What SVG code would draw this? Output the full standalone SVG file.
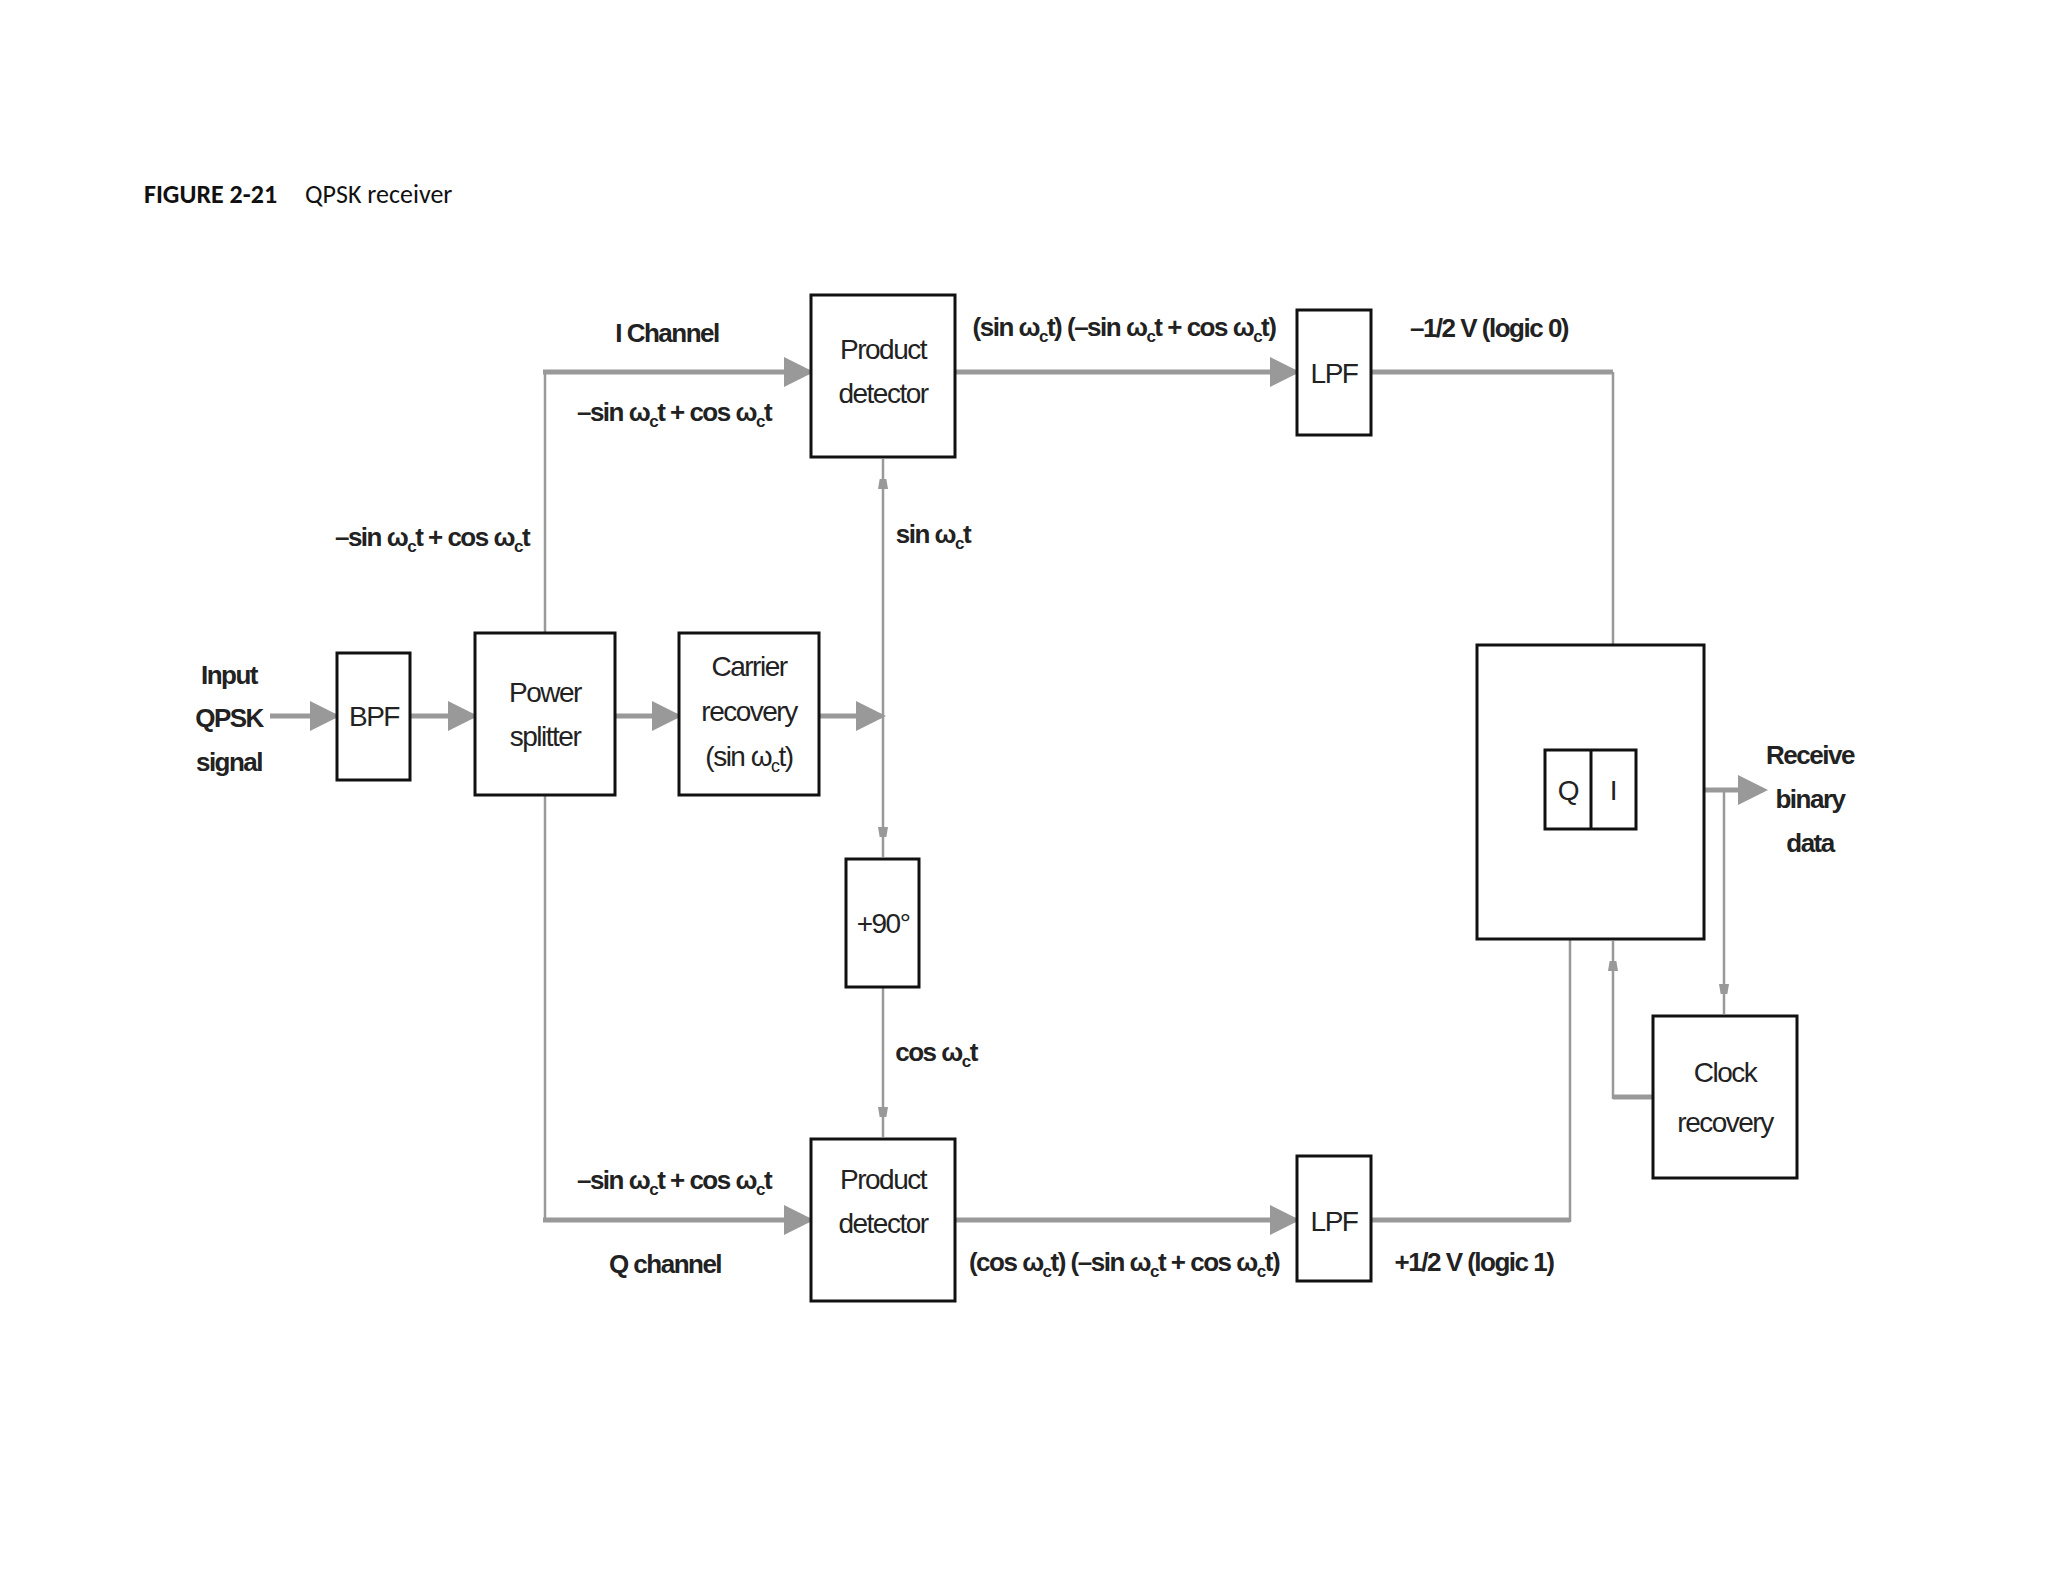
<svg xmlns="http://www.w3.org/2000/svg" width="2048" height="1582" viewBox="0 0 2048 1582">
<style>
.b{fill:#fff;stroke:#111;stroke-width:3}
.t{font-family:"Liberation Sans",Arial,sans-serif;font-size:28px;fill:#222;text-anchor:middle;letter-spacing:-1.5px}
.l{font-family:"Liberation Sans",Arial,sans-serif;font-size:26px;fill:#222;text-anchor:middle;letter-spacing:-1.5px;font-weight:bold}
.w{stroke:#999;stroke-width:5;fill:none}
.n{stroke:#999;stroke-width:2.5;fill:none}
</style>
<defs>
<marker id="a" markerWidth="6" markerHeight="6" refX="5" refY="3" orient="auto"><path d="M0,0L6,3L0,6z" fill="#999"/></marker>
<marker id="s" markerWidth="8" markerHeight="10" refX="8" refY="5" orient="auto" markerUnits="userSpaceOnUse"><path d="M0,0L8,5L0,10z" fill="#999"/></marker>
<marker id="sm" markerWidth="10" markerHeight="30" refX="30" refY="5" orient="auto" markerUnits="userSpaceOnUse"><path d="M0,0L30,5L0,10z" fill="#999"/></marker>
</defs>
<text x="144" y="203" font-family="Calibri,'Liberation Sans',sans-serif" font-size="26" fill="#111"><tspan font-weight="bold">FIGURE 2-21</tspan><tspan dx="28">QPSK receiver</tspan></text>
<g id="connectors">
<path class="w" d="M270,716H335" marker-end="url(#a)"/>
<path class="w" d="M410,716H473" marker-end="url(#a)"/>
<path class="w" d="M615,716H677" marker-end="url(#a)"/>
<path class="w" d="M819,716H881" marker-end="url(#a)"/>
<path class="n" d="M545,633V372" /><path class="w" d="M543,372H809" marker-end="url(#a)"/>
<path class="w" d="M955,372H1295" marker-end="url(#a)"/>
<path class="w" d="M1371,372H1613"/><path class="n" d="M1613,372V748" marker-end="url(#sm)"/>
<path class="n" d="M883,716V459" marker-end="url(#sm)"/>
<path class="n" d="M883,716V857" marker-end="url(#sm)"/>
<path class="n" d="M883,987V1137" marker-end="url(#sm)"/>
<path class="n" d="M545,795V1220"/><path class="w" d="M543,1220H809" marker-end="url(#a)"/>
<path class="w" d="M955,1220H1295" marker-end="url(#a)"/>
<path class="w" d="M1371,1220H1570"/><path class="n" d="M1570,1222V831" marker-end="url(#sm)"/>
<path class="w" d="M1704,790H1763" marker-end="url(#a)"/>
<path class="n" d="M1724,790V1014" marker-end="url(#sm)"/>
<path class="w" d="M1653,1097H1613"/><path class="n" d="M1613,1099V941" marker-end="url(#sm)"/>
</g>
<g id="bpf"><rect class="b" x="337" y="653" width="73" height="127"/><text class="t" x="374" y="726">BPF</text></g>
<g id="splitter"><rect class="b" x="475" y="633" width="140" height="162"/><text class="t" x="545" y="702">Power</text><text class="t" x="545" y="746">splitter</text></g>
<g id="carrier"><rect class="b" x="679" y="633" width="140" height="162"/><text class="t" x="749" y="676">Carrier</text><text class="t" x="749" y="721">recovery</text><text class="t" x="749" y="766">(sin ω<tspan font-size="18" dy="6">c</tspan><tspan dy="-6">t)</tspan></text></g>
<g id="pd1"><rect class="b" x="811" y="295" width="144" height="162"/><text class="t" x="883" y="359">Product</text><text class="t" x="883" y="403">detector</text></g>
<g id="lpf1"><rect class="b" x="1297" y="310" width="74" height="125"/><text class="t" x="1334" y="383">LPF</text></g>
<g id="ph"><rect class="b" x="846" y="859" width="73" height="128"/><text class="t" x="883" y="933">+90°</text></g>
<g id="pd2"><rect class="b" x="811" y="1139" width="144" height="162"/><text class="t" x="883" y="1189">Product</text><text class="t" x="883" y="1233">detector</text></g>
<g id="lpf2"><rect class="b" x="1297" y="1156" width="74" height="125"/><text class="t" x="1334" y="1231">LPF</text></g>
<g id="dec"><rect class="b" x="1477" y="645" width="227" height="294"/><rect class="b" x="1545" y="750" width="91" height="79"/><line x1="1591" y1="750" x2="1591" y2="829" stroke="#111" stroke-width="3"/><text class="t" x="1568" y="800" font-family="Liberation Serif,serif">Q</text><text class="t" x="1613" y="800" font-family="Liberation Serif,serif">I</text></g>
<g id="clock"><rect class="b" x="1653" y="1016" width="144" height="162"/><text class="t" x="1725" y="1082">Clock</text><text class="t" x="1725" y="1132">recovery</text></g>
<g id="labels">
<text class="l" x="229" y="684">Input</text><text class="l" x="229" y="727">QPSK</text><text class="l" x="229" y="771">signal</text>
<text class="l" x="1810" y="764">Receive</text><text class="l" x="1810" y="808">binary</text><text class="l" x="1810" y="852">data</text>
<text class="l" x="667" y="342">I Channel</text>
<text class="l" x="674" y="421">–sin ω<tspan font-size="17" dy="6">c</tspan><tspan dy="-6">t + cos ω</tspan><tspan font-size="17" dy="6">c</tspan><tspan dy="-6">t</tspan></text>
<text class="l" x="432" y="546">–sin ω<tspan font-size="17" dy="6">c</tspan><tspan dy="-6">t + cos ω</tspan><tspan font-size="17" dy="6">c</tspan><tspan dy="-6">t</tspan></text>
<text class="l" x="933" y="543">sin ω<tspan font-size="17" dy="6">c</tspan><tspan dy="-6">t</tspan></text>
<text class="l" x="1124" y="336">(sin ω<tspan font-size="17" dy="6">c</tspan><tspan dy="-6">t) (–sin ω</tspan><tspan font-size="17" dy="6">c</tspan><tspan dy="-6">t + cos ω</tspan><tspan font-size="17" dy="6">c</tspan><tspan dy="-6">t)</tspan></text>
<text class="l" x="1489" y="337">–1/2 V (logic 0)</text>
<text class="l" x="936" y="1061">cos ω<tspan font-size="17" dy="6">c</tspan><tspan dy="-6">t</tspan></text>
<text class="l" x="674" y="1189">–sin ω<tspan font-size="17" dy="6">c</tspan><tspan dy="-6">t + cos ω</tspan><tspan font-size="17" dy="6">c</tspan><tspan dy="-6">t</tspan></text>
<text class="l" x="665" y="1273">Q channel</text>
<text class="l" x="1124" y="1271">(cos ω<tspan font-size="17" dy="6">c</tspan><tspan dy="-6">t) (–sin ω</tspan><tspan font-size="17" dy="6">c</tspan><tspan dy="-6">t + cos ω</tspan><tspan font-size="17" dy="6">c</tspan><tspan dy="-6">t)</tspan></text>
<text class="l" x="1474" y="1271">+1/2 V (logic 1)</text>
</g>
</svg>
